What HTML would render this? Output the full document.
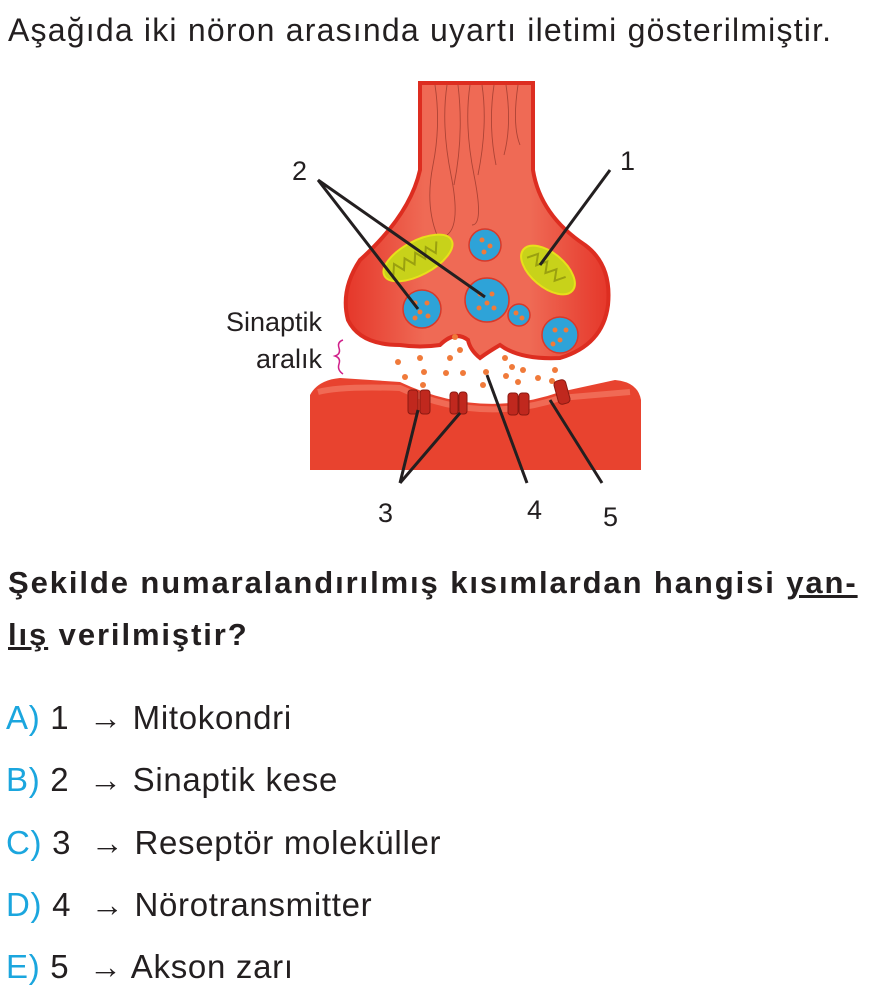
<!DOCTYPE html>
<html><head><meta charset="utf-8"><style>
body{margin:0;width:894px;height:996px;background:#fff;font-family:"Liberation Sans",sans-serif;color:#231f20;position:relative;overflow:hidden}
.t{position:absolute;left:8px;font-size:32px;letter-spacing:1.2px;white-space:nowrap}
.b{font-weight:bold;font-size:31px;letter-spacing:1.9px}
.o{position:absolute;left:6px;font-size:33px;letter-spacing:0.7px;white-space:nowrap}
.o span{color:#1ba6de}
</style></head><body>
<div class="t" style="top:12px">Aşağıda iki nöron arasında uyartı iletimi gösterilmiştir.</div>
<svg style="position:absolute;left:0;top:0" width="894" height="540">
<defs>
<linearGradient id="ax" x1="0" x2="1"><stop offset="0" stop-color="#e5372a"/><stop offset=".3" stop-color="#ef6a55"/><stop offset=".7" stop-color="#ef6a55"/><stop offset="1" stop-color="#e5372a"/></linearGradient>
</defs>
<path d="M310 395 Q318 380 340 378 L400 382 Q480 420 560 392 L615 380 Q638 382 641 400 L641 470 L310 470 Z" fill="#e8432f"/>
<path d="M318 392 Q340 386 400 388 Q480 425 560 398 L630 392" fill="none" stroke="#f06a55" stroke-width="6"/>
<path d="M420 83 L533 83 L533 170 Q540 215 585 245 Q612 265 608 305 Q603 345 560 358 Q520 360 500 345 Q488 352 480 358 Q470 350 468 340 Q455 330 440 345 Q420 348 400 345 Q360 345 348 320 Q340 290 360 260 Q410 215 420 170 Z" fill="url(#ax)" stroke="#dd2d20" stroke-width="4"/>
<g stroke="#9c3a2e" stroke-width="0.9" fill="none" opacity=".8">
<path d="M435 85 q6 40 -2 80 t4 70"/><path d="M447 85 q-6 40 4 90 t-4 60"/><path d="M458 85 q6 50 -4 100"/><path d="M470 85 q-6 40 4 90 t-2 50"/><path d="M482 85 q6 40 -4 90"/><path d="M494 85 q-6 40 2 80"/><path d="M506 85 q6 40 -2 70"/><path d="M518 85 q-6 40 2 60"/>
</g>
<g transform="rotate(-28 418 258)"><ellipse cx="418" cy="258" rx="38" ry="17" fill="#c8d21a" stroke="#e8e01a" stroke-width="2"/><path d="M388 262 l6 -10 l6 10 l6 -10 l6 10 l6 -10 l6 10 l6 -10 l6 10 l6 -10" stroke="#9aa010" fill="none" stroke-width="2"/></g>
<g transform="rotate(40 548 270)"><ellipse cx="548" cy="270" rx="32" ry="17" fill="#c8d21a" stroke="#e8e01a" stroke-width="2"/><path d="M524 274 l6 -10 l6 10 l6 -10 l6 10 l6 -10 l6 10 l6 -10" stroke="#9aa010" fill="none" stroke-width="2"/></g>
<g fill="#2ea3d8" stroke="#d8392a" stroke-width="1.5">
<circle cx="485" cy="245" r="16"/><circle cx="422" cy="309" r="19"/><circle cx="487" cy="300" r="22"/><circle cx="519" cy="315" r="11"/><circle cx="560" cy="335" r="18"/>
</g>
<g fill="#f07a3a">
<circle cx="482" cy="240" r="2.5"/><circle cx="490" cy="246" r="2.5"/><circle cx="484" cy="252" r="2.5"/>
<circle cx="415" cy="303" r="2.5"/><circle cx="427" cy="303" r="2.5"/><circle cx="420" cy="312" r="2.5"/><circle cx="428" cy="316" r="2.5"/><circle cx="415" cy="318" r="2.5"/>
<circle cx="480" cy="294" r="2.5"/><circle cx="492" cy="294" r="2.5"/><circle cx="487" cy="303" r="2.5"/><circle cx="479" cy="308" r="2.5"/><circle cx="494" cy="308" r="2.5"/>
<circle cx="516" cy="313" r="2.5"/><circle cx="522" cy="318" r="2.5"/>
<circle cx="555" cy="330" r="2.5"/><circle cx="566" cy="330" r="2.5"/><circle cx="560" cy="340" r="2.5"/><circle cx="553" cy="344" r="2.5"/>
<circle cx="398" cy="362" r="3"/><circle cx="420" cy="358" r="3"/><circle cx="424" cy="372" r="3"/><circle cx="405" cy="377" r="3"/><circle cx="423" cy="385" r="3"/><circle cx="446" cy="373" r="3"/><circle cx="463" cy="373" r="3"/><circle cx="455" cy="337" r="3"/><circle cx="460" cy="350" r="3"/><circle cx="450" cy="358" r="3"/><circle cx="486" cy="372" r="3"/><circle cx="483" cy="385" r="3"/><circle cx="505" cy="358" r="3"/><circle cx="512" cy="367" r="3"/><circle cx="506" cy="376" r="3"/><circle cx="523" cy="370" r="3"/><circle cx="518" cy="382" r="3"/><circle cx="538" cy="378" r="3"/><circle cx="555" cy="370" r="3"/><circle cx="552" cy="381" r="3"/>
</g>
<g fill="#c0281e" stroke="#8a1a12" stroke-width="1">
<rect x="408" y="390" width="10" height="24" rx="3"/><rect x="420" y="390" width="10" height="24" rx="3"/>
<rect x="450" y="392" width="8" height="22" rx="3"/><rect x="459" y="392" width="8" height="22" rx="3"/>
<rect x="508" y="393" width="10" height="22" rx="3"/><rect x="519" y="393" width="10" height="22" rx="3"/>
<rect x="556" y="380" width="12" height="24" rx="4" transform="rotate(-15 562 392)"/>
</g>
<path d="M343 340 q-6 2 -4 8 q2 6 -4 8 q6 2 4 8 q-2 6 4 10" fill="none" stroke="#d0208a" stroke-width="1.5"/>
<g stroke="#231f20" stroke-width="3" fill="none">
<path d="M318 180 L418 309 M318 180 L485 297"/>
<path d="M610 170 L540 265"/>
<path d="M400 483 L418 410 M400 483 L460 413"/>
<path d="M527 483 L487 375"/>
<path d="M602 483 L550 400"/>
</g>
<g font-size="27" fill="#231f20">
<text x="292" y="180">2</text><text x="620" y="170">1</text>
<text x="378" y="522">3</text><text x="527" y="519">4</text><text x="603" y="526">5</text>
<text x="322" y="331" text-anchor="end">Sinaptik</text><text x="322" y="368" text-anchor="end">aralık</text>
</g>
</svg>
<div class="t b" style="top:565px">Şekilde numaralandırılmış kısımlardan hangisi <u>yan-</u></div>
<div class="t b" style="top:617px"><u>lış</u> verilmiştir?</div>
<div class="o" style="top:699px"><span>A)</span> 1 &nbsp;→ Mitokondri</div>
<div class="o" style="top:761px"><span>B)</span> 2 &nbsp;→ Sinaptik kese</div>
<div class="o" style="top:824px"><span>C)</span> 3 &nbsp;→ Reseptör moleküller</div>
<div class="o" style="top:886px"><span>D)</span> 4 &nbsp;→ Nörotransmitter</div>
<div class="o" style="top:948px"><span>E)</span> 5 &nbsp;→ Akson zarı</div>
</body></html>
